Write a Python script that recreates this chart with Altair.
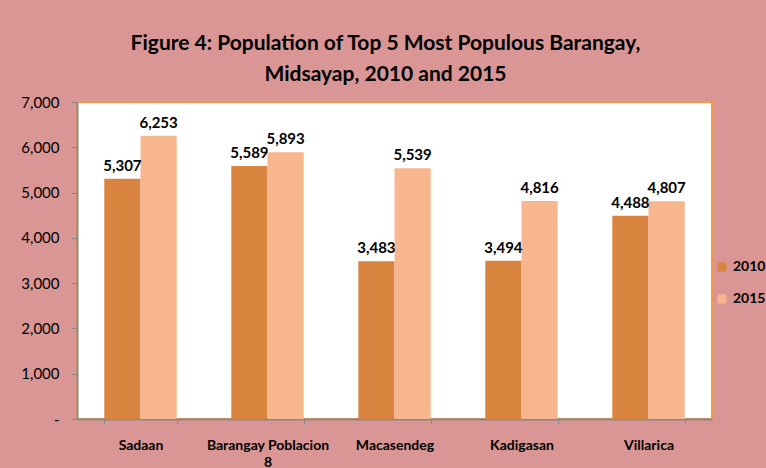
import altair as alt
import pandas as pd

categories = ["Sadaan", "Barangay Poblacion 8", "Macasendeg", "Kadigasan", "Villarica"]
pop_2010 = [5307, 5589, 3483, 3494, 4488]
pop_2015 = [6253, 5893, 5539, 4816, 4807]
years = ["2010", "2015"]
y_ticks = [0, 1000, 2000, 3000, 4000, 5000, 6000, 7000]
colors = ["#D9843F", "#F8B68F"]

rows = []
for c, a, b in zip(categories, pop_2010, pop_2015):
    rows.append({"Barangay": c, "Year": years[0], "Population": a})
    rows.append({"Barangay": c, "Year": years[1], "Population": b})
df = pd.DataFrame(rows)

FONT = "Lato, 'Open Sans', sans-serif"

x = alt.X(
    "Barangay:N",
    sort=categories,
    scale=alt.Scale(paddingInner=0.43, paddingOuter=0.215),
    axis=alt.Axis(
        title=None,
        labelAngle=0,
        labelFont=FONT,
        labelFontWeight="bold",
        labelFontSize=14,
        labelColor="black",
        labelPadding=14,
        labelLineHeight=17,
        tickBand="extent",
        tickSize=5,
        tickColor="#888888",
        domainColor="#888888",
        domainWidth=2,
        labelExpr="datum.label == 'Barangay Poblacion 8' ? ['Barangay Poblacion', '8'] : datum.label",
    ),
)
xo = alt.XOffset("Year:N", sort=years, scale=alt.Scale(paddingInner=0, paddingOuter=0))
y = alt.Y(
    "Population:Q",
    scale=alt.Scale(domain=[0, 7000], nice=False),
    axis=alt.Axis(
        title=None,
        values=y_ticks,
        format=",.0f",
        labelExpr="datum.value == 0 ? '-' : datum.label",
        labelFont=FONT,
        labelFontSize=15,
        labelColor="black",
        labelPadding=12,
        tickSize=6,
        tickColor="#888888",
        domainColor="#888888",
        domainWidth=2,
        grid=False,
    ),
)

bars = alt.Chart(df).mark_bar().encode(
    x=x,
    xOffset=xo,
    y=y,
    color=alt.Color(
        "Year:N",
        sort=years,
        scale=alt.Scale(domain=years, range=colors),
        legend=alt.Legend(
            title=None,
            orient="none",
            legendX=638,
            legendY=158,
            symbolType="square",
            symbolSize=81,
            symbolStrokeWidth=0,
            labelFont=FONT,
            labelFontSize=14,
            labelFontWeight="bold",
            labelColor="black",
            rowPadding=18,
            labelOffset=4,
        ),
    ),
)

labels = alt.Chart(df).mark_text(
    dy=-13, font=FONT, fontSize=15, fontWeight="bold", color="black"
).encode(
    x=x,
    xOffset=xo,
    y=y,
    text=alt.Text("Population:Q", format=","),
)

chart = (
    alt.layer(bars, labels)
    .properties(
        width=635,
        height=317,
        padding={"left": 77, "top": 102, "right": 54, "bottom": 49},
        autosize=alt.AutoSizeParams(type="none"),
        title=alt.TitleParams(
            text=["Figure 4: Population of Top 5 Most Populous Barangay,", "Midsayap, 2010 and 2015"],
            font=FONT,
            fontSize=21,
            fontWeight="bold",
            color="black",
            anchor="middle",
            lineHeight=31,
            offset=10,
            dx=-9,
        ),
    )
    .configure(background="#D99694")
    .configure_view(fill="white", stroke="#F79646", strokeWidth=2)
)

chart.save("out.html", embed_options={"renderer": "svg", "actions": False})
